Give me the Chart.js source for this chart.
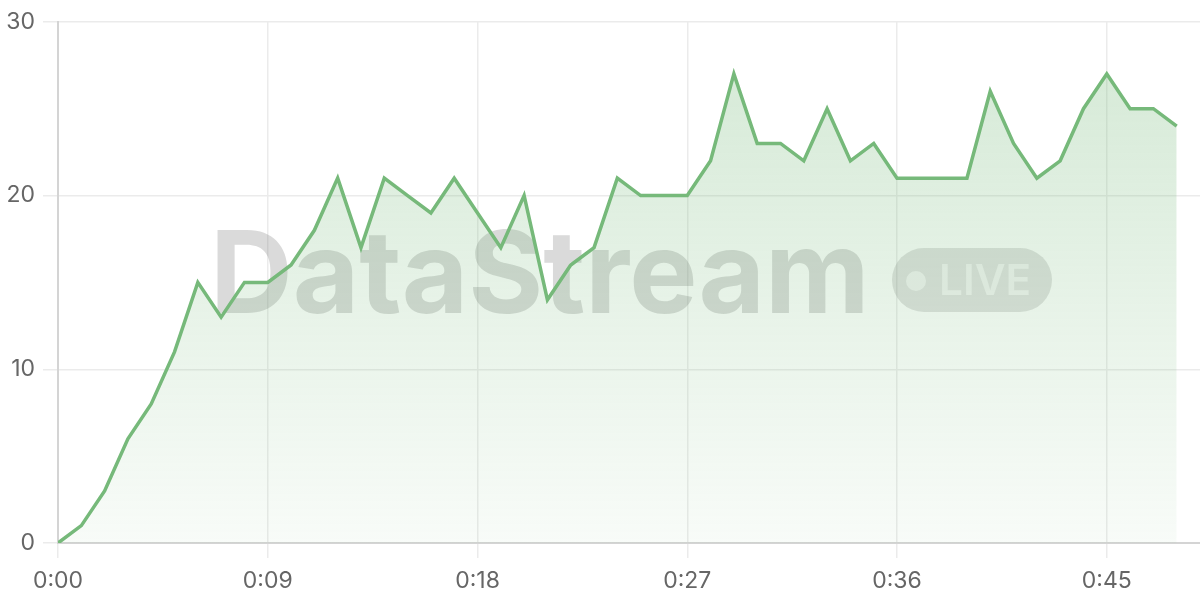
<!DOCTYPE html>
<html>
<head>
<meta charset="utf-8">
<script src="https://cdn.jsdelivr.net/npm/chart.js@4"></script>
<style>
html,body{margin:0;padding:0;background:#fff;}
#wrap{width:1200px;height:600px;position:relative;}
</style>
</head>
<body>
<div id="wrap"><canvas id="c" width="1200" height="600"></canvas></div>
<script>
const seconds = [0,1,2,3,4,5,6,7,8,9,10,11,12,13,14,15,16,17,18,19,20,21,22,23,24,25,26,27,28,29,30,31,32,33,34,35,36,37,38,39,40,41,42,43,44,45,46,47,48];
const values = [0,1,3,6,8,11,15,13,15,15,16,18,21,17,21,20,19,21,19,17,20,14,16,17,21,20,20,20,22,27,23,23,22,25,22,23,21,21,21,21,26,23,21,22,25,27,25,25,24];
const yTicks = [0,10,20,30];
const xTickSeconds = [0,9,18,27,36,45];
const watermarkText = 'DataStream';
const badgeText = 'LIVE';

const FONT = 'Inter, "Liberation Sans", Arial, sans-serif';

const watermark = {
  id: 'watermark',
  beforeDatasetsDraw(chart) {
    const ctx = chart.ctx;
    ctx.save();
    ctx.textBaseline = 'alphabetic';
    ctx.textAlign = 'left';
    ctx.font = 'bold 100px ' + FONT;
    const w = ctx.measureText(watermarkText).width;
    const size = 100 * 660 / w;
    ctx.font = 'bold ' + size.toFixed(1) + 'px ' + FONT;
    ctx.fillStyle = 'rgba(120,120,120,0.27)';
    ctx.fillText(watermarkText, 210, 313);
    // badge
    const bx = 892, by = 248, bw = 160, bh = 64, r = 32;
    ctx.beginPath();
    ctx.roundRect(bx, by, bw, bh, r);
    ctx.fillStyle = 'rgba(120,120,120,0.22)';
    ctx.fill();
    ctx.fillStyle = 'rgba(255,255,255,0.6)';
    ctx.beginPath();
    ctx.arc(916, 281, 10, 0, Math.PI * 2);
    ctx.fill();
    ctx.font = '600 ' + (41 * 1).toString() + 'px ' + FONT;
    const lw = ctx.measureText(badgeText).width;
    ctx.font = '600 ' + (41 * 92 / lw).toFixed(1) + 'px ' + FONT;
    ctx.textBaseline = 'middle';
    ctx.fillText(badgeText, 939, 282);
    ctx.restore();
  }
};

const ctx = document.getElementById('c').getContext('2d');
const grad = ctx.createLinearGradient(0, 20, 0, 543);
grad.addColorStop(0, 'rgba(118,185,122,0.32)');
grad.addColorStop(1, 'rgba(118,185,122,0.05)');

new Chart(ctx, {
  type: 'line',
  data: {
    datasets: [{
      data: seconds.map((s, i) => ({x: s, y: values[i]})),
      borderColor: '#76b97a',
      borderWidth: 3.5,
      backgroundColor: grad,
      fill: 'origin',
      tension: 0,
      pointRadius: 0,
      pointHoverRadius: 0
    }]
  },
  options: {
    responsive: false,
    animation: false,
    layout: {padding: {top: 20, right: 0, left: 0, bottom: 0}},
    plugins: {legend: {display: false}, tooltip: {enabled: false}},
    scales: {
      x: {
        type: 'linear',
        min: 0,
        max: 49,
        afterBuildTicks(scale) { scale.ticks = xTickSeconds.map(v => ({value: v})); },
        ticks: {
          includeBounds: false,
          stepSize: 9,
          color: '#666',
          font: {family: FONT, size: 23},
          padding: 9,
          maxRotation: 0,
          callback: v => Math.floor(v / 60) + ':' + String(v % 60).padStart(2, '0')
        },
        grid: {color: '#ebebeb', lineWidth: 1.5, tickLength: 15},
        border: {color: '#d4d4d4', width: 2},
        afterFit(scale) { scale.height = 57; }
      },
      y: {
        min: 0,
        max: 30,
        afterBuildTicks(scale) { scale.ticks = yTicks.map(v => ({value: v})); },
        ticks: {
          stepSize: 10,
          color: '#666',
          font: {family: FONT, size: 23},
          padding: 8
        },
        grid: {color: '#ebebeb', lineWidth: 1.5, tickLength: 15},
        border: {color: '#d4d4d4', width: 2},
        afterFit(scale) { scale.width = 58; }
      }
    }
  },
  plugins: [watermark]
});
</script>
</body>
</html>
